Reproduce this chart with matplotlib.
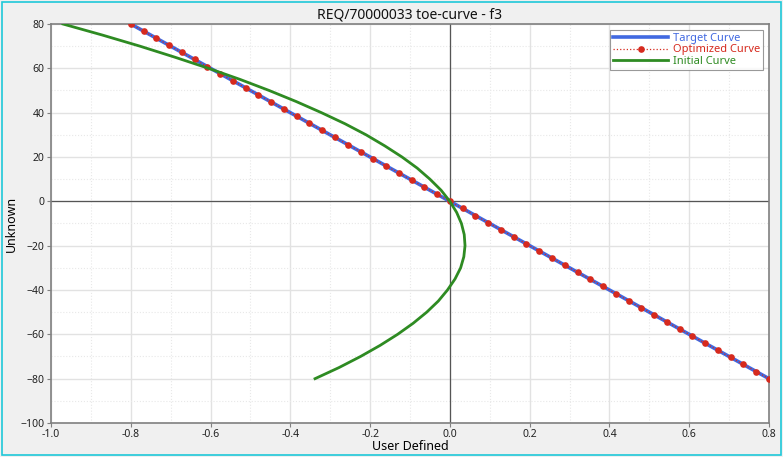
import matplotlib
matplotlib.use("Agg")
import matplotlib.pyplot as plt
from matplotlib.patches import Rectangle
from matplotlib.ticker import MultipleLocator

plt.rcParams['font.family'] = ['Noto Sans', 'DejaVu Sans']

# target / optimized curve samples
opt_x = [-0.800, -0.768, -0.736, -0.704, -0.672, -0.640, -0.608, -0.576, -0.544, -0.512,
         -0.480, -0.448, -0.416, -0.384, -0.352, -0.320, -0.288, -0.256, -0.224, -0.192,
         -0.160, -0.128, -0.096, -0.064, -0.032, 0.000, 0.032, 0.064, 0.096, 0.128,
         0.160, 0.192, 0.224, 0.256, 0.288, 0.320, 0.352, 0.384, 0.416, 0.448,
         0.480, 0.512, 0.544, 0.576, 0.608, 0.640, 0.672, 0.704, 0.736, 0.768, 0.800]
opt_y = [80.0, 76.8, 73.6, 70.4, 67.2, 64.0, 60.8, 57.6, 54.4, 51.2,
         48.0, 44.8, 41.6, 38.4, 35.2, 32.0, 28.8, 25.6, 22.4, 19.2,
         16.0, 12.8, 9.6, 6.4, 3.2, 0.0, -3.2, -6.4, -9.6, -12.8,
         -16.0, -19.2, -22.4, -25.6, -28.8, -32.0, -35.2, -38.4, -41.6, -44.8,
         -48.0, -51.2, -54.4, -57.6, -60.8, -64.0, -67.2, -70.4, -73.6, -76.8, -80.0]
target_x = opt_x
target_y = opt_y

# initial curve
init_x = [-0.970, -0.871, -0.777, -0.689, -0.605, -0.526, -0.453, -0.385, -0.322, -0.263,
          -0.210, -0.163, -0.120, -0.082, -0.050, -0.022, 0.000, 0.017, 0.029, 0.036,
          0.038, 0.035, 0.027, 0.013, -0.006, -0.029, -0.058, -0.092, -0.131, -0.175,
          -0.224, -0.278, -0.338]
init_y = [80, 75, 70, 65, 60, 55, 50, 45, 40, 35,
          30, 25, 20, 15, 10, 5, 0, -5, -10, -15,
          -20, -25, -30, -35, -40, -45, -50, -55, -60, -65,
          -70, -75, -80]

fig = plt.figure(figsize=(7.83, 4.57), dpi=100, facecolor='#f0f0f0')
ax = fig.add_axes([0.0651, 0.0744, 0.9170, 0.8731])
ax.set_facecolor('white')

ax.set_xlim(-1.0, 0.8)
ax.set_ylim(-100, 80)
ax.xaxis.set_major_locator(MultipleLocator(0.2))
ax.xaxis.set_minor_locator(MultipleLocator(0.1))
ax.yaxis.set_major_locator(MultipleLocator(20))
ax.yaxis.set_minor_locator(MultipleLocator(10))
ax.grid(which='major', color='#e2e2e2', linewidth=1.0)
ax.grid(which='minor', color='#e8e8e8', linewidth=0.8, linestyle=':')
ax.set_axisbelow(True)

ax.axhline(0, color='#555555', linewidth=0.9, zorder=1)
ax.axvline(0, color='#555555', linewidth=0.9, zorder=1)

ax.plot(target_x, target_y, color='#4169e1', linewidth=2.6, label='Target Curve', zorder=3)
ax.plot(opt_x, opt_y, color='#d62a1e', linestyle=':', linewidth=0.9, marker='o',
        markersize=4.8, markeredgewidth=0, label='Optimized Curve', zorder=4)
ax.plot(init_x, init_y, color='#2e8b22', linewidth=2.0, label='Initial Curve', zorder=5,
        solid_joinstyle='round')

xt = [-1.0, -0.8, -0.6, -0.4, -0.2, 0.0, 0.2, 0.4, 0.6, 0.8]
ax.set_xticks(xt)
ax.set_xticklabels(['%.1f' % v for v in xt])
ax.tick_params(which='major', direction='out', length=3, width=0.8, color='#808080',
               labelsize=7.5, pad=1.5, labelcolor='#222222')
ax.tick_params(which='minor', length=0)
for s in ax.spines.values():
    s.set_color('#808080')
    s.set_linewidth(1.2)

ax.set_title('REQ/70000033 toe-curve - f3', fontsize=10, pad=4, color='#111111')
ax.set_xlabel('User Defined', fontsize=9, labelpad=0)
ax.set_ylabel('Unknown', fontsize=9, labelpad=2)

leg = ax.legend(loc='upper right', fontsize=8, frameon=True, fancybox=False,
                borderpad=0.3, handlelength=5, handletextpad=0.4, labelspacing=0.05,
                borderaxespad=0.5)
leg.get_frame().set_edgecolor('#808080')
leg.get_frame().set_linewidth(0.8)
for txt, line in zip(leg.get_texts(), leg.get_lines()):
    txt.set_color(line.get_color())

fig.patches.append(Rectangle((0.002, 0.004), 0.996, 0.992, transform=fig.transFigure,
                             fill=False, edgecolor='#1fc8d8', linewidth=1.2))

fig.savefig('out.png', dpi=100, facecolor=fig.get_facecolor())
